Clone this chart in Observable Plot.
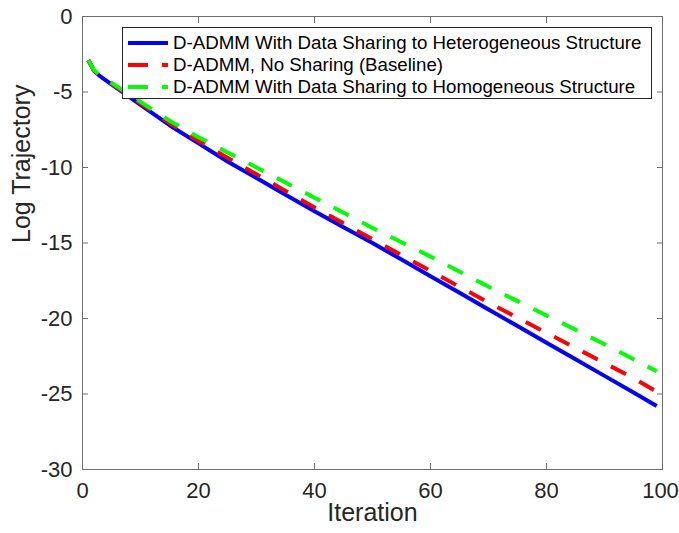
<!DOCTYPE html>
<html>
<head>
<meta charset="utf-8">
<script src="https://cdn.jsdelivr.net/npm/d3@7"></script>
<script src="https://cdn.jsdelivr.net/npm/@observablehq/plot@0.6"></script>
<style>
  html, body { margin: 0; padding: 0; background: #fff; }
  #wrap { position: relative; width: 679px; height: 533px; overflow: hidden; font-family: "Liberation Sans", Arial, Helvetica, sans-serif; }
  #legend { position: absolute; left: 122px; top: 27px; width: 530px; height: 72px; border: 1px solid #262626; background: #fff; box-sizing: border-box; }
  .row { position: absolute; left: 0; height: 22px; display: flex; align-items: center; font-size: 18.7px; color: #000; white-space: nowrap; }
  .row svg { margin-left: 5px; margin-right: 5px; }
</style>
</head>
<body>
<div id="wrap"></div>
<script>
// ---- data ----
const iterations = [1, 2, 3, 5, 10, 15, 20, 25, 30, 35, 40, 45, 50, 55, 60, 65, 70, 75, 80, 85, 90, 95, 99];
const heteroValues   = [-2.9, -3.6, -3.95, -4.5, -5.85, -7.2, -8.4, -9.6, -10.7, -11.8, -12.9, -13.95, -15.0, -16.1, -17.2, -18.3, -19.4, -20.5, -21.6, -22.7, -23.8, -24.9, -25.8];
const baselineValues = [-2.9, -3.6, -3.95, -4.45, -5.75, -7.05, -8.25, -9.35, -10.45, -11.55, -12.65, -13.7, -14.75, -15.8, -16.85, -17.9, -18.95, -19.95, -20.95, -21.95, -22.95, -23.95, -24.85];
const homoValues     = [-2.9, -3.55, -3.9, -4.4, -5.65, -6.9, -8.0, -9.0, -10.0, -11.0, -12.0, -13.0, -14.0, -14.95, -15.9, -16.9, -17.9, -18.85, -19.8, -20.75, -21.7, -22.7, -23.5];
const seriesNames = [
  "D-ADMM With Data Sharing to Heterogeneous Structure",
  "D-ADMM, No Sharing (Baseline)",
  "D-ADMM With Data Sharing to Homogeneous Structure"
];
const xTicks = [0, 20, 40, 60, 80, 100];
const yTicks = [0, -5, -10, -15, -20, -25, -30];
const xLabel = "Iteration";
const yLabel = "Log Trajectory";

// ---- styles ----
const seriesStyles = [
  {color: "#0000ff", dash: null},
  {color: "#ff0000", dash: "17,15"},
  {color: "#00ff00", dash: "17,15"}
];
const seriesValues = [heteroValues, baselineValues, homoValues];
const rows = seriesNames.map((name, s) =>
  iterations.map((it, i) => ({series: name, x: it, y: seriesValues[s][i]}))
);

const axisColor = "#262626";
const frameColor = "#6e6e6e";
const fmt = d => String(d);
const xLabelOpts = {anchor: "bottom", tickSize: 0, tickPadding: 13, stroke: "none", fontSize: 22, label: null, fill: axisColor, tickFormat: fmt};

const chart = Plot.plot({
  width: 679,
  height: 533,
  marginLeft: 82,
  marginRight: 17,
  marginTop: 16,
  marginBottom: 64,
  style: {fontFamily: '"Liberation Sans", Arial, Helvetica, sans-serif', color: axisColor, background: "#fff"},
  x: {domain: [0, 100]},
  y: {domain: [-30, 0]},
  marks: [
    // inward tick marks on all four sides
    Plot.axisX(xTicks, {anchor: "bottom", tickSize: 6, dy: -6, fill: "none", stroke: frameColor}),
    Plot.axisX(xTicks, {anchor: "top", tickSize: 6, dy: 6, fill: "none", stroke: frameColor}),
    Plot.axisY(yTicks, {anchor: "left", tickSize: 6, dx: 6, fill: "none", stroke: frameColor}),
    Plot.axisY(yTicks, {anchor: "right", tickSize: 6, dx: -6, fill: "none", stroke: frameColor}),
    // tick labels (last x label nudged so it stays inside the page)
    Plot.axisX(xTicks.slice(0, -1), xLabelOpts),
    Plot.axisX(xTicks.slice(-1), {...xLabelOpts, dx: -2}),
    Plot.axisY(yTicks, {anchor: "left", tickSize: 0, tickPadding: 10, stroke: "none", fontSize: 22, label: null, fill: axisColor, tickFormat: fmt}),
    Plot.frame({stroke: frameColor}),
    // series
    ...rows.map((data, s) => Plot.line(data, {
      x: "x", y: "y",
      stroke: seriesStyles[s].color,
      strokeWidth: 4,
      strokeDasharray: seriesStyles[s].dash,
      strokeLinecap: "butt",
      strokeLinejoin: "round"
    })),
    // axis titles
    Plot.text([xLabel], {frameAnchor: "bottom", dy: 51, fontSize: 25, fill: axisColor}),
    Plot.text([yLabel], {frameAnchor: "left", dx: -61, rotate: -90, fontSize: 25, fill: axisColor})
  ]
});

const wrap = document.getElementById("wrap");
wrap.appendChild(chart);

// legend
const legend = document.createElement("div");
legend.id = "legend";
seriesNames.forEach((name, s) => {
  const row = document.createElement("div");
  row.className = "row";
  row.style.top = (4 + s * 22) + "px";
  const st = seriesStyles[s];
  row.innerHTML = `<svg width="40" height="8"><line x1="0" x2="40" y1="4" y2="4" stroke="${st.color}" stroke-width="4" ${st.dash ? `stroke-dasharray="20,14"` : ""}/></svg><span>${name}</span>`;
  legend.appendChild(row);
});
wrap.appendChild(legend);
</script>
</body>
</html>
